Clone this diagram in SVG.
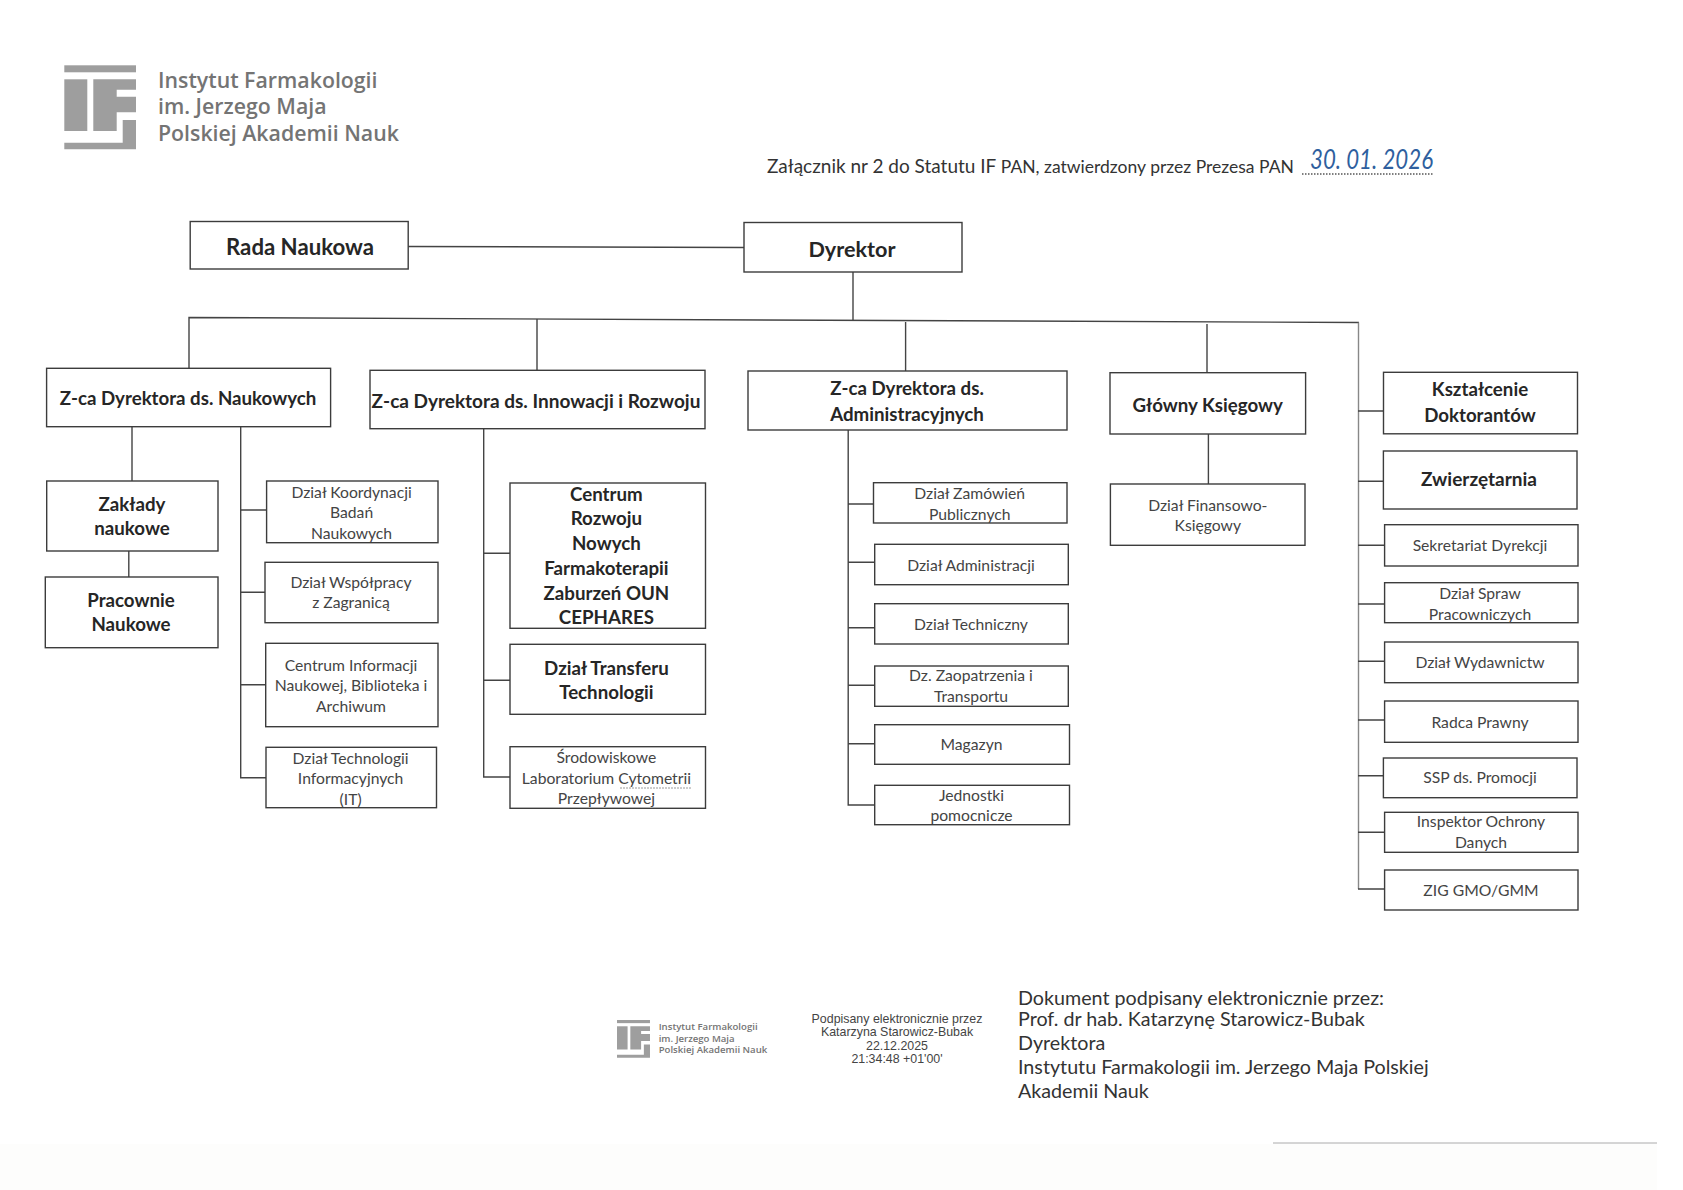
<svg xmlns="http://www.w3.org/2000/svg" width="1683" height="1190" viewBox="0 0 1683 1190">
<style>
text{font-family:"Lato","Open Sans","Liberation Sans",sans-serif;transform:translateY(1.2px)}
.box{fill:#fff;stroke:#3c3c3c;stroke-width:1.4}
.c{fill:none;stroke:#444;stroke-width:1.4}
.b{font-weight:700;font-size:18.7px;fill:#262626;text-anchor:middle}
.r{font-size:15.7px;fill:#444;text-anchor:middle}
.lg{fill:#9e9e9e}
.lt{font-family:"Open Sans","Liberation Sans",sans-serif;font-weight:600;fill:#747474}
.d{font-size:19.7px;fill:#333}
.s{font-family:"Liberation Sans",sans-serif;font-size:12.4px;fill:#444;text-anchor:middle}
</style>
<defs>
<g id="logo">
<rect class="lg" x="64.3" y="65.3" width="71.7" height="7"/>
<rect class="lg" x="64.3" y="79.3" width="23" height="51.7"/>
<path class="lg" d="M93.3 79.3H136V89.8H116.7V96.7H136V112.3H116.7V131H93.3Z"/>
<path class="lg" d="M122.7 120H136V149.3H64.3V142.7H122.7Z"/>
</g>
</defs>
<rect width="1683" height="1190" fill="#fff"/>
<rect x="0" y="1144" width="1657" height="46" fill="#fdfdfc"/>
<g id="header">
<use href="#logo"/>
<text class="lt" font-size="21.3" x="158" y="87">Instytut Farmakologii</text>
<text class="lt" font-size="21.3" x="158" y="113">im. Jerzego Maja</text>
<text class="lt" font-size="21.3" x="158" y="139.5">Polskiej Akademii Nauk</text>
<text x="767" y="172" font-size="19" fill="#333">Załącznik nr 2 do Statutu IF <tspan font-size="17.5">PAN, zatwierdzony przez Prezesa PAN</tspan></text>
<line x1="1302" y1="174" x2="1433" y2="174" stroke="#555" stroke-width="1.5" stroke-dasharray="1.5 1.5"/>
<text x="1310" y="168" font-size="27" font-style="italic" fill="#2f5f9e" textLength="123" lengthAdjust="spacingAndGlyphs">30. 01. 2026</text>
</g>
<g id="connectors">
<path class="c" d="M408 246.5L744 247.5"/>
<path class="c" d="M853 272V321"/>
<path class="c" d="M189 368V317.5L1359 322.5"/>
<path class="c" d="M537 319V370M905.6 322V371M1207 324V372"/>
<path class="c" d="M132 427V481M128.8 551V577"/>
<path class="c" d="M240.7 427V777.7H266M240.7 510H266M240.7 592.3H265M240.7 684.7H266"/>
<path class="c" d="M483.7 429V777H510M483.7 553.3H510M483.7 680.3H510"/>
<path class="c" d="M848.2 430V805H874.7M848.2 504H873.5M848.2 562.3H874.7M848.2 627.7H874.7M848.2 685.3H874.7M848.2 743.7H874.7"/>
<path class="c" d="M1208.4 434V484"/>
<path class="c" style="stroke:#888" d="M1358.5 322.5V889"/>
<path class="c" d="M1358 889H1384.6M1358 411H1383.5M1358 481.3H1383.4M1358 545.3H1384.6M1358 604H1384.6M1358 661.3H1384.6M1358 720H1384.6M1358 775.7H1383.4M1358 832.3H1384.6"/>
</g>
<g id="n-rada"><rect class="box" x="190.2" y="221.5" width="218" height="47.5"/><text class="b" x="300" y="254" style="font-size:22.2px">Rada Naukowa</text></g>
<g id="n-dyrektor"><rect class="box" x="744" y="222.5" width="218" height="49.5"/><text class="b" x="852" y="256" style="font-size:21.6px">Dyrektor</text></g>
<g id="n-zca-nauk"><rect class="box" x="46.6" y="368.3" width="284" height="58.4"/><text class="b" x="188" y="404">Z-ca Dyrektora ds. Naukowych</text></g>
<g id="n-zca-innow"><rect class="box" x="370" y="370.3" width="335" height="58.4"/><text class="b" x="536" y="406.7" style="font-size:19px">Z-ca Dyrektora ds. Innowacji i Rozwoju</text></g>
<g id="n-zca-admin"><rect class="box" x="748" y="371" width="319" height="59"/><text class="b" x="907" y="394.3">Z-ca Dyrektora ds.</text><text class="b" x="907" y="420">Administracyjnych</text></g>
<g id="n-ksiegowy"><rect class="box" x="1110" y="372.7" width="195.6" height="61.3"/><text class="b" x="1207.7" y="410.7">Główny Księgowy</text></g>
<g id="n-ksztalcenie"><rect class="box" x="1383.5" y="372.3" width="194" height="61.5"/><text class="b" x="1480" y="395">Kształcenie</text><text class="b" x="1480" y="421">Doktorantów</text></g>
<g id="n-zaklady"><rect class="box" x="46.7" y="481" width="171.3" height="70"/><text class="b" x="132" y="510">Zakłady</text><text class="b" x="132" y="534.3">naukowe</text></g>
<g id="n-pracownie"><rect class="box" x="45.3" y="577" width="172.7" height="70.7"/><text class="b" x="131" y="606.3">Pracownie</text><text class="b" x="131" y="630.3">Naukowe</text></g>
<g id="n-koord"><rect class="box" x="266.6" y="481" width="171.4" height="61.7"/><text class="r" x="351.6" y="496.7">Dział Koordynacji</text><text class="r" x="351.6" y="517.3">Badań</text><text class="r" x="351.6" y="537.7">Naukowych</text></g>
<g id="n-wspolpracy"><rect class="box" x="265" y="562.3" width="173" height="60.4"/><text class="r" x="351" y="586.7">Dział Współpracy</text><text class="r" x="351" y="607.3">z Zagranicą</text></g>
<g id="n-cin"><rect class="box" x="265.7" y="643.3" width="172.3" height="83.4"/><text class="r" x="351" y="670">Centrum Informacji</text><text class="r" x="351" y="690.3">Naukowej, Biblioteka i</text><text class="r" x="351" y="711">Archiwum</text></g>
<g id="n-it"><rect class="box" x="266" y="747.3" width="170.5" height="60.4"/><text class="r" x="350.6" y="762.7">Dział Technologii</text><text class="r" x="350.6" y="783.3">Informacyjnych</text><text class="r" x="350.6" y="804">(IT)</text></g>
<g id="n-cephares"><rect class="box" x="510" y="483" width="195.5" height="145.3"/><text class="b" x="606.4" y="500.3">Centrum</text><text class="b" x="606.4" y="524.3">Rozwoju</text><text class="b" x="606.4" y="549.3">Nowych</text><text class="b" x="606.4" y="574.3">Farmakoterapii</text><text class="b" x="606.4" y="598.7">Zaburzeń OUN</text><text class="b" x="606.4" y="623.3">CEPHARES</text></g>
<g id="n-transfer"><rect class="box" x="510" y="644.3" width="195.5" height="70"/><text class="b" x="606.4" y="673.7">Dział Transferu</text><text class="b" x="606.4" y="697.7">Technologii</text></g>
<g id="n-cytometria"><rect class="box" x="510" y="746.7" width="195.5" height="61.6"/><text class="r" x="606.4" y="762.3">Środowiskowe</text><text class="r" x="606.4" y="783">Laboratorium Cytometrii</text><text class="r" x="606.4" y="803.3">Przepływowej</text><line x1="620" y1="788" x2="692" y2="788" stroke="#9a9a9a" stroke-dasharray="2 1"/></g>
<g id="n-zamowien"><rect class="box" x="873.5" y="482.7" width="193.5" height="40.3"/><text class="r" x="969.7" y="498.3">Dział Zamówień</text><text class="r" x="969.7" y="518.7">Publicznych</text></g>
<g id="n-admin"><rect class="box" x="874.7" y="544.3" width="193.6" height="40.4"/><text class="r" x="971" y="570">Dział Administracji</text></g>
<g id="n-techniczny"><rect class="box" x="874.7" y="603.7" width="193.6" height="40.3"/><text class="r" x="971" y="629.3">Dział Techniczny</text></g>
<g id="n-zaopatrzenia"><rect class="box" x="874.7" y="666" width="193.6" height="40.3"/><text class="r" x="971" y="680">Dz. Zaopatrzenia i</text><text class="r" x="971" y="700.7">Transportu</text></g>
<g id="n-magazyn"><rect class="box" x="874.7" y="724.7" width="194.8" height="39.6"/><text class="r" x="971.5" y="749.3">Magazyn</text></g>
<g id="n-jednostki"><rect class="box" x="874.7" y="785.3" width="194.8" height="39.4"/><text class="r" x="971.5" y="800">Jednostki</text><text class="r" x="971.5" y="820.3">pomocnicze</text></g>
<g id="n-finansowy"><rect class="box" x="1110.4" y="484" width="194.6" height="61.3"/><text class="r" x="1207.8" y="509.7">Dział Finansowo-</text><text class="r" x="1207.8" y="530">Księgowy</text></g>
<g id="n-zwierzetarnia"><rect class="box" x="1383.4" y="451" width="193.6" height="58"/><text class="b" x="1479" y="485.3" style="font-size:19px">Zwierzętarnia</text></g>
<g id="n-sekretariat"><rect class="box" x="1384.6" y="524.7" width="193.4" height="41.3"/><text class="r" x="1480" y="550">Sekretariat Dyrekcji</text></g>
<g id="n-spraw"><rect class="box" x="1384.6" y="582.7" width="193.4" height="40"/><text class="r" x="1480" y="598.3">Dział Spraw</text><text class="r" x="1480" y="618.7">Pracowniczych</text></g>
<g id="n-wydawnictw"><rect class="box" x="1384.6" y="642" width="193.4" height="40.7"/><text class="r" x="1480" y="666.7">Dział Wydawnictw</text></g>
<g id="n-radca"><rect class="box" x="1384.6" y="701" width="193.4" height="41.3"/><text class="r" x="1480" y="726.7">Radca Prawny</text></g>
<g id="n-ssp"><rect class="box" x="1383.4" y="758" width="193.6" height="39.7"/><text class="r" x="1480" y="782.3">SSP ds. Promocji</text></g>
<g id="n-iod"><rect class="box" x="1384.6" y="812.3" width="193.4" height="40"/><text class="r" x="1481" y="826">Inspektor Ochrony</text><text class="r" x="1481" y="846.7">Danych</text></g>
<g id="n-zig"><rect class="box" x="1384.6" y="870" width="193.4" height="40"/><text class="r" x="1481" y="894.7">ZIG GMO/GMM</text></g>
<g id="footer">
<use href="#logo" transform="translate(617 1020) scale(.46 .449) translate(-64.3 -65.3)"/>
<text class="lt" font-size="9.6" x="658.7" y="1029">Instytut Farmakologii</text>
<text class="lt" font-size="9.6" x="658.7" y="1040.7">im. Jerzego Maja</text>
<text class="lt" font-size="9.6" x="658.7" y="1052.3">Polskiej Akademii Nauk</text>
<text class="s" x="897" y="1021.7">Podpisany elektronicznie przez</text>
<text class="s" x="897" y="1035">Katarzyna Starowicz-Bubak</text>
<text class="s" x="897" y="1049">22.12.2025</text>
<text class="s" x="897" y="1062">21:34:48 +01'00'</text>
<text class="d" x="1018" y="1004.3">Dokument podpisany elektronicznie przez:</text>
<text class="d" x="1018" y="1025">Prof. dr hab. Katarzynę Starowicz-Bubak</text>
<text class="d" x="1018" y="1049.3">Dyrektora</text>
<text class="d" x="1018" y="1073.3">Instytutu Farmakologii im. Jerzego Maja Polskiej</text>
<text class="d" x="1018" y="1097.3">Akademii Nauk</text>
<line x1="1273" y1="1143" x2="1657" y2="1143" stroke="#aaa" stroke-width="1"/>
</g>
</svg>
